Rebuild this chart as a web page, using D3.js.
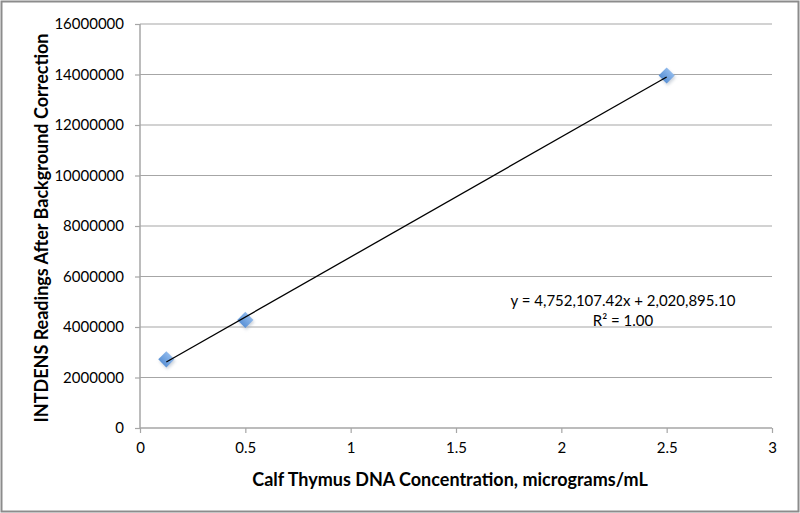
<!DOCTYPE html>
<html><head><meta charset="utf-8">
<script src="https://d3js.org/d3.v7.min.js"></script>
<style>body{margin:0;background:#fff}svg{display:block}</style>
</head><body>
<script>
const xValues = [0.125, 0.5, 2.5];
const yValues = [2720000, 4280000, 13960000];
const xTicks = [0, 0.5, 1, 1.5, 2, 2.5, 3];
const yTicks = [0, 2000000, 4000000, 6000000, 8000000, 10000000, 12000000, 14000000, 16000000];
const slope = 4752107.42, intercept = 2020895.10;
const eqLabel = "y = 4,752,107.42x + 2,020,895.10";
const r2Label = "R² = 1.00";
const xTitle = "Calf Thymus DNA Concentration, micrograms/mL";
const yTitle = "INTDENS Readings After Background Correction";

const W = 800, H = 513;
const svg = d3.select("body").append("svg").attr("width", W).attr("height", H);
svg.append("rect").attr("x", 1.5).attr("y", 1.5).attr("width", W - 3).attr("height", H - 3)
  .attr("fill", "#fff").attr("stroke", "#8c8c8c").attr("stroke-width", 2);

const x = d3.scaleLinear().domain([0, 3]).range([140, 772]);
const y = d3.scaleLinear().domain([0, 16000000]).range([428, 24]);
const font = "Lato, 'Open Sans', sans-serif";

svg.append("g").selectAll("line").data(yTicks.slice(1)).join("line")
  .attr("x1", x(0)).attr("x2", x(3)).attr("y1", d => y(d)).attr("y2", d => y(d))
  .attr("stroke", "#a6a6a6").attr("stroke-width", 1.2);

const xAxis = svg.append("g").attr("transform", `translate(0,${y(0)})`)
  .call(d3.axisBottom(x).tickValues(xTicks).tickSize(5).tickFormat(d3.format("")));
xAxis.select(".domain").attr("stroke", "#a6a6a6").attr("stroke-width", 1.5).attr("d", `M${x(0)},0H${x(3)}`);
xAxis.selectAll(".tick line").attr("stroke", "#a6a6a6").attr("stroke-width", 1.2);
xAxis.selectAll(".tick text").attr("font-family", font).attr("font-size", 15).attr("fill", "#000").attr("dy", "1.15em");

const yAxis = svg.append("g").attr("transform", `translate(${x(0)},0)`)
  .call(d3.axisLeft(y).tickValues(yTicks).tickSize(5).tickFormat(d3.format("d")));
yAxis.select(".domain").attr("stroke", "#a6a6a6").attr("stroke-width", 1.5).attr("d", `M0,${y(0)}V${y(16000000)}`);
yAxis.selectAll(".tick line").attr("stroke", "#a6a6a6").attr("stroke-width", 1.2);
yAxis.selectAll(".tick text").attr("font-family", font).attr("font-size", 15).attr("fill", "#000").attr("x", -16);

const defs = svg.append("defs");
const grad = defs.append("linearGradient").attr("id", "mg").attr("x1", 0).attr("y1", 0).attr("x2", 0).attr("y2", 1);
grad.append("stop").attr("offset", "0%").attr("stop-color", "#8fb9ec");
grad.append("stop").attr("offset", "100%").attr("stop-color", "#5b92d6");
const blur = defs.append("filter").attr("id", "sh").attr("x", "-50%").attr("y", "-50%").attr("width", "200%").attr("height", "200%");
blur.append("feGaussianBlur").attr("stdDeviation", 1.5);

const pts = xValues.map((v, i) => [v, yValues[i]]);
const sym = d3.symbol().type(d3.symbolSquare).size(130);
svg.append("g").selectAll("path").data(pts).join("path")
  .attr("d", sym).attr("transform", d => `translate(${x(d[0]) + 1},${y(d[1]) + 2}) rotate(45)`)
  .attr("fill", "#9aa7b8").attr("opacity", 0.5).attr("filter", "url(#sh)");
svg.append("g").selectAll("path").data(pts).join("path")
  .attr("d", sym).attr("transform", d => `translate(${x(d[0])},${y(d[1])}) rotate(45)`)
  .attr("fill", "url(#mg)");

svg.append("line")
  .attr("x1", x(xValues[0])).attr("y1", y(slope * xValues[0] + intercept))
  .attr("x2", x(xValues[2])).attr("y2", y(slope * xValues[2] + intercept))
  .attr("stroke", "#000").attr("stroke-width", 1.3);

svg.append("text").attr("x", 623).attr("y", 306).attr("text-anchor", "middle")
  .attr("font-family", font).attr("font-size", 15).text(eqLabel);
svg.append("text").attr("x", 623).attr("y", 326).attr("text-anchor", "middle")
  .attr("font-family", font).attr("font-size", 15).text(r2Label);

svg.append("text").attr("x", 450).attr("y", 486).attr("text-anchor", "middle")
  .attr("font-family", font).attr("font-weight", "bold").attr("font-size", 18).text(xTitle);
svg.append("text").attr("transform", `translate(48,${228}) rotate(-90)`).attr("text-anchor", "middle")
  .attr("font-family", font).attr("font-weight", "bold").attr("font-size", 18).text(yTitle);
</script>
</body></html>
